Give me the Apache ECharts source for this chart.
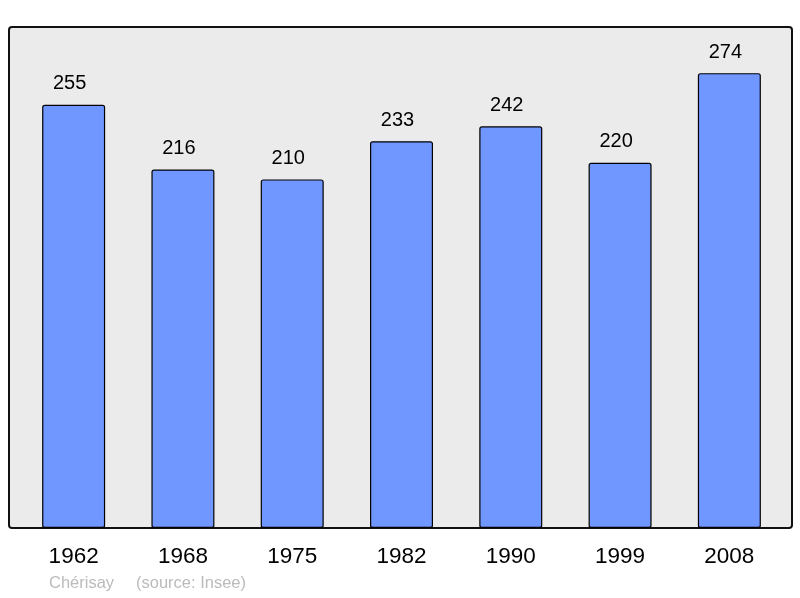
<!DOCTYPE html>
<html>
<head>
<meta charset="utf-8"/>
<title>Chérisay</title>
<script src="https://cdn.jsdelivr.net/npm/echarts@6/dist/echarts.min.js"></script>
<style>
  html, body { margin: 0; padding: 0; background: #fff; }
  #chart { width: 800px; height: 598px; }
</style>
</head>
<body>
<div id="chart"></div>
<script>
var years = ['1962', '1968', '1975', '1982', '1990', '1999', '2008'];
var population = [255, 216, 210, 233, 242, 220, 274];

var chart = echarts.init(document.getElementById('chart'));
var option = {
  animation: false,
  graphic: [
    {
      type: 'rect', z: -1,
      shape: { x: 9, y: 27, width: 783, height: 501, r: 3 },
      style: { fill: '#ebebeb', stroke: '#111', lineWidth: 2 }
    },
    {
      type: 'text', left: 49, top: 575,
      style: { text: 'Chérisay', fill: '#bbb', font: '16.5px "Liberation Sans", Arial, sans-serif' }
    },
    {
      type: 'text', left: 136, top: 575,
      style: { text: '(source: Insee)', fill: '#bbb', font: '16.5px "Liberation Sans", Arial, sans-serif' }
    }
  ],
  grid: { left: 19, right: 16, top: 30, bottom: 70 },
  xAxis: {
    type: 'category',
    data: years,
    axisLine: { show: false },
    axisTick: { show: false },
    axisLabel: { color: '#000', fontSize: 22.5, margin: 17, fontFamily: 'Liberation Sans' }
  },
  yAxis: {
    type: 'value', min: 0, max: 300,
    show: false
  },
  series: [{
    type: 'bar',
    data: population,
    barWidth: 63,
    itemStyle: { color: '#7096ff', borderColor: '#000', borderWidth: 1.2, borderRadius: 2 },
    label: {
      show: true, position: 'top', distance: 11, offset: [-4, 0],
      color: '#000', fontSize: 20, fontFamily: 'Liberation Sans'
    }
  }]
};
chart.setOption(option);
</script>
</body>
</html>
